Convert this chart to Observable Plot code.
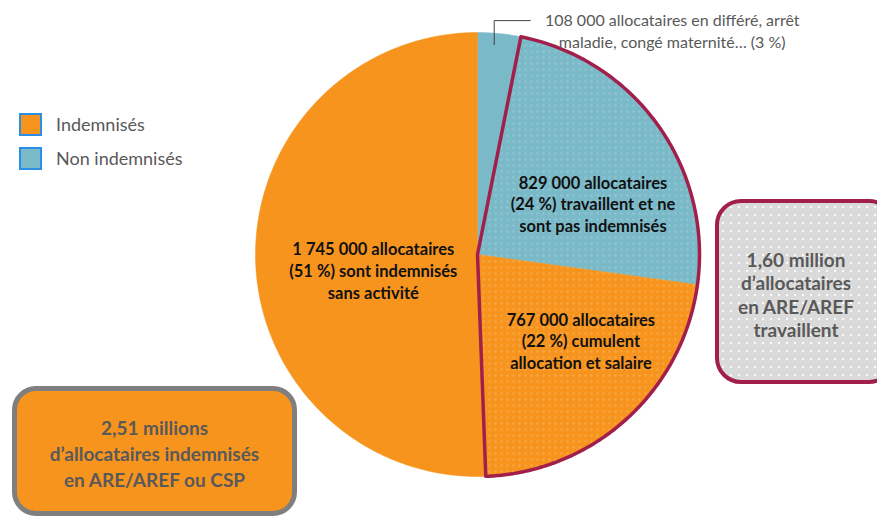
<!DOCTYPE html>
<html><head><meta charset="utf-8">
<script src="https://cdn.jsdelivr.net/npm/d3@7"></script>
<script src="https://cdn.jsdelivr.net/npm/@observablehq/plot@0.6"></script>
<style>
html,body{margin:0;padding:0;background:#fff;}
#wrap{position:relative;width:877px;height:517px;overflow:hidden;font-family:Lato,"Open Sans",sans-serif;}
#chart{position:absolute;left:0;top:0;}
.legend{position:absolute;left:19px;top:107px;color:#595959;font-size:18px;}
.legend .row{display:flex;align-items:center;height:34px;}
.legend .sw{width:19px;height:19px;border:2px solid #2B8FE8;margin-right:14px;box-sizing:content-box;}
.box{position:absolute;box-sizing:border-box;display:flex;align-items:center;justify-content:center;text-align:center;font-weight:bold;color:#595959;}
.box.orange{left:12px;top:386px;width:285px;height:130px;background:#F7941E;border:5px solid #7F7F7F;border-radius:24px;font-size:19px;line-height:26px;padding-top:6px;}
.box.grey{left:715px;top:199px;width:180px;height:185px;background-color:#DADADA;background-image:radial-gradient(circle,rgba(255,255,255,0.9) 0.8px,transparent 1.2px);background-size:8px 8px;border:4px solid #A21F4C;border-radius:26px;font-size:19px;line-height:23.5px;padding-right:18px;padding-top:6px;}
</style></head>
<body>
<div id="wrap">
  <div id="chart"></div>
  <div class="legend">
    <div class="row"><div class="sw" style="background:#F7941E"></div>Indemnisés</div>
    <div class="row"><div class="sw" style="background:#7AB9C8"></div>Non indemnisés</div>
  </div>
  <div class="box orange"><div>2,51 millions<br>d’allocataires indemnisés<br>en ARE/AREF ou CSP</div></div>
  <div class="box grey"><div>1,60 million<br>d’allocataires<br>en ARE/AREF<br>travaillent</div></div>
</div>
<script>
// ---- data ----
const categories = ["differe", "travaillent_non_indemnises", "cumulent", "sans_activite"];
const values = [108000, 829000, 767000, 1745000];
const groups = ["Non indemnisés", "Non indemnisés", "Indemnisés", "Indemnisés"];
const highlighted = [false, true, true, false];
const labels = [
  "",
  "829 000 allocataires\n(24 %) travaillent et ne\nsont pas indemnisés",
  "767 000 allocataires\n(22 %) cumulent\nallocation et salaire",
  "1 745 000 allocataires\n(51 %) sont indemnisés\nsans activité"
];
const calloutText = "108 000 allocataires en différé, arrêt\nmaladie, congé maternité… (3 %)";

// ---- layout ----
const W = 877, H = 517;
const cx = 477, cy = 254, R = 222;
const colors = {"Indemnisés": "#F7941E", "Non indemnisés": "#7AB9C8"};
const labelOffsets = [[0,0],[7,26],[14,-13],[29,13]];

const data = categories.map((c, i) => ({key: c, value: values[i], group: groups[i], hi: highlighted[i], label: labels[i], i}));
const arcs = d3.pie().sort(null).value(d => d.value)(data);

function pt(a, r) { return {x: cx + r * Math.sin(a), y: cy - r * Math.cos(a)}; }
function wedge(a0, a1, key) {
  const n = Math.max(2, Math.ceil((a1 - a0) / (Math.PI / 360)));
  const pts = [{...pt(0, 0), key}];
  for (let k = 0; k <= n; k++) pts.push({...pt(a0 + (a1 - a0) * k / n, R), key});
  pts.push({...pt(0, 0), key});
  return pts;
}

const marks = [];
arcs.forEach(a => {
  const pts = wedge(a.startAngle, a.endAngle, a.data.key);
  marks.push(Plot.line(pts, {x: "x", y: "y", fill: colors[a.data.group], stroke: colors[a.data.group], strokeWidth: 0.5, curve: "linear"}));
  if (a.data.hi) marks.push(Plot.line(pts, {x: "x", y: "y", fill: "url(#dots)", stroke: "none", curve: "linear"}));
});
// highlighted group outline
const hiArcs = arcs.filter(a => a.data.hi);
const outline = wedge(d3.min(hiArcs, a => a.startAngle), d3.max(hiArcs, a => a.endAngle), "hi");
marks.push(Plot.line(outline, {x: "x", y: "y", stroke: "#A21F4C", strokeWidth: 3.5, strokeLinejoin: "round", fill: "none"}));

// slice labels
const labelData = arcs.filter(a => a.data.label).map(a => {
  const m = (a.startAngle + a.endAngle) / 2;
  const p = pt(m, R * 0.6);
  const o = labelOffsets[a.data.i];
  return {x: p.x + o[0], y: p.y + o[1], text: a.data.label};
});
marks.push(Plot.text(labelData, {x: "x", y: "y", text: "text", fontSize: 16.5, fontWeight: "bold", fill: "#111", lineHeight: 1.31, fontFamily: "Lato, sans-serif"}));

// callout for small slice
const small = arcs[0];
const p0 = pt((small.startAngle + small.endAngle) / 2, R * 0.95);
const leader = [{x: p0.x - 4, y: p0.y}, {x: p0.x - 4, y: p0.y - 24}, {x: p0.x + 32, y: p0.y - 24}];
marks.push(Plot.line(leader, {x: "x", y: "y", stroke: "#404040", strokeWidth: 1}));
marks.push(Plot.text([calloutText], {x: leader[2].x + 142, y: leader[2].y + 9, text: d => d, fontSize: 16, fill: "#595959", lineHeight: 1.4, fontFamily: "Lato, sans-serif"}));

const chart = Plot.plot({
  width: W, height: H, margin: 0,
  x: {domain: [0, W], range: [0, W], axis: null},
  y: {domain: [0, H], range: [0, H], axis: null},
  style: {background: "transparent", overflow: "visible"},
  marks
});
const svg = d3.select(chart);
const defs = svg.insert("defs", ":first-child");
const pat = defs.append("pattern").attr("id", "dots").attr("patternUnits", "userSpaceOnUse").attr("width", 6).attr("height", 6);
pat.append("rect").attr("x", 2.5).attr("y", 2.5).attr("width", 1).attr("height", 1).attr("fill", "rgba(255,255,255,0.8)");
document.getElementById("chart").appendChild(chart);
</script>
</body></html>
